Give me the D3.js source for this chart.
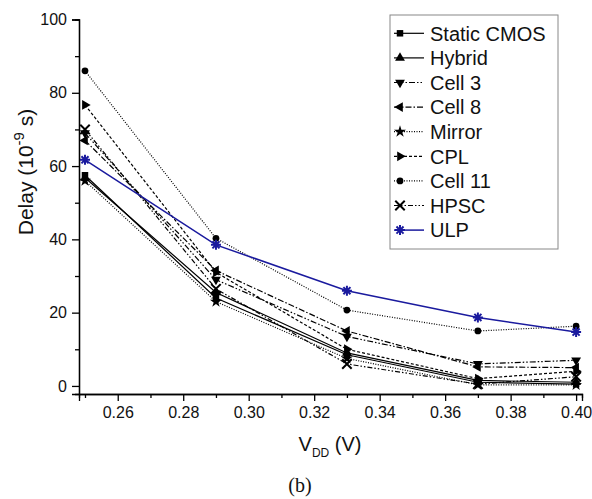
<!DOCTYPE html>
<html>
<head>
<meta charset="utf-8">
<script src="https://cdn.jsdelivr.net/npm/d3@7"></script>
<style>
  html, body { margin: 0; padding: 0; background: #fff; }
  svg text { font-family: "Liberation Sans", Arial, sans-serif; fill: #111; }
</style>
</head>
<body>
<div id="chart"></div>
<script>
// Valeurs
const vdd = [0.25, 0.29, 0.33, 0.37, 0.40];
const staticCmos = [57.5, 24, 8.5, 1, 0.5];
const hybrid = [56.8, 25.5, 9, 1.5, 1];
const cell3 = [69, 29, 13.5, 6, 7];
const cell8 = [67, 31.5, 15, 5.2, 5];
const mirror = [56, 23, 7.5, 0.3, 0.3];
const cpl = [76.7, 31, 10, 2, 4];
const cell11 = [86, 40.3, 20.7, 15, 16.3];
const hpsc = [70, 26.5, 6, 0.5, 2.5];
const ulp = [61.7, 38.5, 26, 18.7, 14.7];

const seriesNames = ['Static CMOS', 'Hybrid', 'Cell 3', 'Cell 8', 'Mirror', 'CPL', 'Cell 11', 'HPSC', 'ULP'];
const seriesValues = [staticCmos, hybrid, cell3, cell8, mirror, cpl, cell11, hpsc, ulp];
const yTicks = [0, 20, 40, 60, 80, 100];
const xTicks = [0.26, 0.28, 0.30, 0.32, 0.34, 0.36, 0.38, 0.40];

// Styles de chaque série
const styles = {
    'Static CMOS': { dash: null, marker: 'square', color: '#000' },
    'Hybrid': { dash: null, marker: 'up', color: '#000' },
    'Cell 3': { dash: '6,2,1.5,2,1.5,2', marker: 'down', color: '#000' },
    'Cell 8': { dash: '6,2,1.5,2', marker: 'left', color: '#000' },
    'Mirror': { dash: '1,1.5', marker: 'star', color: '#000' },
    'CPL': { dash: '3,2', marker: 'right', color: '#000' },
    'Cell 11': { dash: '1,1.5', marker: 'circle', color: '#000' },
    'HPSC': { dash: '5,2,1.5,2,1.5,2', marker: 'x', color: '#000' },
    'ULP': { dash: null, marker: 'asterisk', color: '#1a1a9e' }
};

const width = 592, height = 499;
const plot = { left: 79, right: 582, top: 19.5, bottom: 394 };

const svg = d3.select('#chart').append('svg')
    .attr('width', width)
    .attr('height', height);

const xScale = d3.scaleLinear()
    .domain([0.24817, 0.4018])
    .range([plot.left, plot.right]);

const yScale = d3.scaleLinear()
    .domain([-2.2, 100])
    .range([plot.bottom, plot.top]);

// Axes
const xAxis = d3.axisBottom(xScale).tickValues(xTicks).tickFormat(d3.format('.2f')).tickSize(7).tickPadding(6);
const xMinor = d3.axisBottom(xScale).tickValues(d3.range(0.25, 0.4001, 0.02)).tickFormat('').tickSize(4);
const yAxis = d3.axisLeft(yScale).tickValues(yTicks).tickFormat(d3.format('d')).tickSize(7).tickPadding(5);
const yMinor = d3.axisLeft(yScale).tickValues([10, 30, 50, 70, 90]).tickFormat('').tickSize(4);

function styleAxis(g) {
    g.select('.domain').attr('stroke', '#000').attr('stroke-width', 1.3);
    g.selectAll('line').attr('stroke', '#000').attr('stroke-width', 1.3);
    g.selectAll('text').style('font-size', '16px').style('font-family', '"Liberation Sans", Arial, sans-serif').attr('fill', '#111');
}

svg.append('g').attr('transform', `translate(0,${plot.bottom})`).call(xMinor).call(styleAxis);
svg.append('g').attr('transform', `translate(0,${plot.bottom})`).call(xAxis).call(styleAxis);
svg.append('g').attr('transform', `translate(${plot.left},0)`).call(yMinor).call(styleAxis);
svg.append('g').attr('transform', `translate(${plot.left},0)`).call(yAxis).call(styleAxis);

// Titres des axes
const yTitle = svg.append('text')
    .attr('transform', 'translate(33,172) rotate(-90)')
    .attr('text-anchor', 'middle')
    .style('font-size', '21px');
yTitle.append('tspan').text('Delay (10');
yTitle.append('tspan').attr('dy', -9).style('font-size', '15px').text('-9');
yTitle.append('tspan').attr('dy', 9).text(' s)');

const xTitle = svg.append('text')
    .attr('x', 330)
    .attr('y', 451)
    .attr('text-anchor', 'middle')
    .style('font-size', '20px');
xTitle.append('tspan').text('V');
xTitle.append('tspan').attr('dy', 6).style('font-size', '12px').text('DD');
xTitle.append('tspan').attr('dy', -6).text(' (V)');

svg.append('text')
    .attr('x', 300)
    .attr('y', 492)
    .attr('text-anchor', 'middle')
    .style('font-family', '"Liberation Serif", "Times New Roman", serif')
    .style('font-size', '20px')
    .text('(b)');

// Dessin d'un marqueur
function drawMarker(g, type, x, y, color) {
    const sym = (t, size, rot) => g.append('path')
        .attr('d', d3.symbol().type(t).size(size)())
        .attr('transform', `translate(${x},${y}) rotate(${rot || 0})`)
        .attr('fill', color);
    if (type === 'square') sym(d3.symbolSquare, 42);
    else if (type === 'up') sym(d3.symbolTriangle, 42, 0);
    else if (type === 'down') sym(d3.symbolTriangle, 42, 180);
    else if (type === 'left') sym(d3.symbolTriangle, 42, -90);
    else if (type === 'right') sym(d3.symbolTriangle, 42, 90);
    else if (type === 'star') sym(d3.symbolStar, 45);
    else if (type === 'circle') sym(d3.symbolCircle, 36);
    else if (type === 'x') {
        g.append('path')
            .attr('d', d3.symbol().type(d3.symbolTimes).size(60)())
            .attr('transform', `translate(${x},${y})`)
            .attr('fill', 'none').attr('stroke', color).attr('stroke-width', 2);
    } else if (type === 'asterisk') {
        const r = 5;
        const path = d3.path();
        for (let k = 0; k < 4; k++) {
            const a = k * Math.PI / 4;
            path.moveTo(x - r * Math.cos(a), y - r * Math.sin(a));
            path.lineTo(x + r * Math.cos(a), y + r * Math.sin(a));
        }
        g.append('path').attr('d', path.toString())
            .attr('fill', 'none').attr('stroke', color).attr('stroke-width', 2);
    }
}

const line = d3.line()
    .x(d => xScale(d.x))
    .y(d => yScale(d.y));

// Courbes
seriesNames.forEach((name, i) => {
    const st = styles[name];
    const pts = vdd.map((v, j) => ({ x: v, y: seriesValues[i][j] }));
    const g = svg.append('g').attr('class', 'series');
    g.append('path')
        .datum(pts)
        .attr('d', line)
        .attr('fill', 'none')
        .attr('stroke', st.color)
        .attr('stroke-width', name === 'ULP' ? 1.5 : 1.2)
        .attr('stroke-dasharray', st.dash);
    pts.forEach(p => drawMarker(g, st.marker, xScale(p.x), yScale(p.y), st.color));
});

// Légende
const legend = svg.append('g').attr('class', 'legend');
const lg = { left: 390, top: 15, right: 558, bottom: 249 };
legend.append('rect')
    .attr('x', lg.left).attr('y', lg.top)
    .attr('width', lg.right - lg.left).attr('height', lg.bottom - lg.top)
    .attr('fill', '#fff').attr('stroke', '#888').attr('stroke-width', 1);

seriesNames.forEach((name, i) => {
    const st = styles[name];
    const y = 33.3 + i * 24.6;
    legend.append('line')
        .attr('x1', lg.left + 4).attr('x2', 424)
        .attr('y1', y).attr('y2', y)
        .attr('stroke', st.color)
        .attr('stroke-width', name === 'ULP' ? 1.5 : 1.2)
        .attr('stroke-dasharray', st.dash);
    drawMarker(legend, st.marker, 400, y, st.color);
    legend.append('text')
        .attr('x', 430)
        .attr('y', y)
        .attr('dy', '0.36em')
        .style('font-size', '20px')
        .text(name);
});
</script>
</body>
</html>
